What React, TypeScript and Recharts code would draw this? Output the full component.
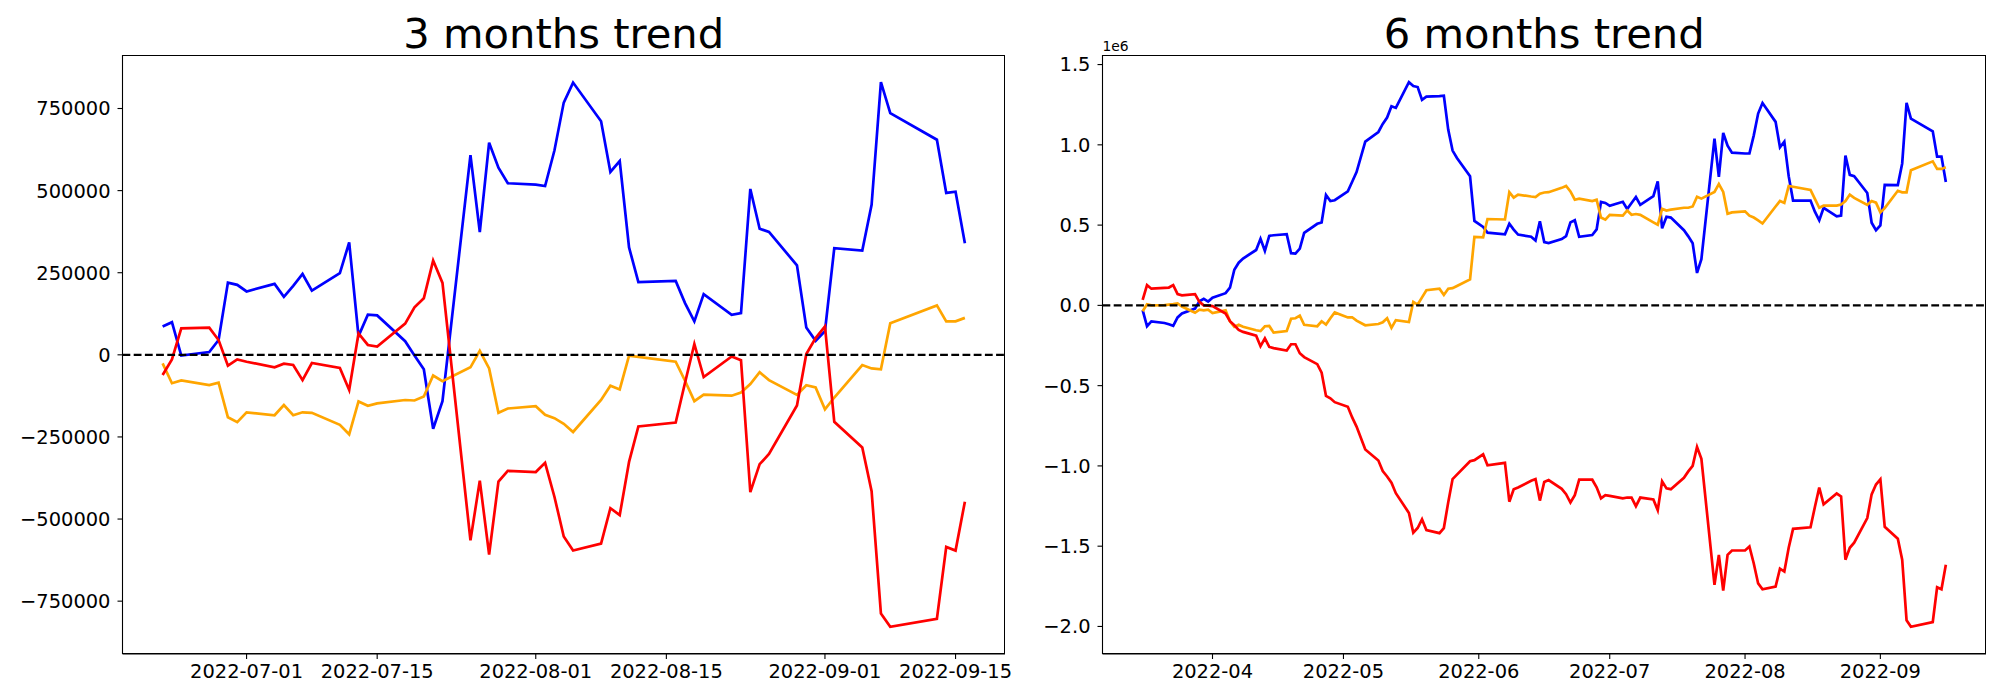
import React from 'react';
import { LineChart, Line, XAxis, YAxis, ReferenceLine } from 'recharts';

// ---------- 3 months data ----------
const dates3m = [
  '2022-06-22', '2022-06-23', '2022-06-24', '2022-06-27', '2022-06-28', '2022-06-29', '2022-06-30',
  '2022-07-01', '2022-07-04', '2022-07-05', '2022-07-06', '2022-07-07', '2022-07-08', '2022-07-11', '2022-07-12',
  '2022-07-13', '2022-07-14', '2022-07-15', '2022-07-18', '2022-07-19', '2022-07-20', '2022-07-21', '2022-07-22',
  '2022-07-25', '2022-07-26', '2022-07-27', '2022-07-28', '2022-07-29',
  '2022-08-01', '2022-08-02', '2022-08-03', '2022-08-04', '2022-08-05', '2022-08-08', '2022-08-09', '2022-08-10',
  '2022-08-11', '2022-08-12', '2022-08-16', '2022-08-17', '2022-08-18', '2022-08-19', '2022-08-22', '2022-08-23',
  '2022-08-24', '2022-08-25', '2022-08-26', '2022-08-29', '2022-08-30', '2022-08-31',
  '2022-09-01', '2022-09-02', '2022-09-05', '2022-09-06', '2022-09-07', '2022-09-08', '2022-09-13', '2022-09-14',
  '2022-09-15', '2022-09-16',
];
const blue3m = [
  86500, 99500, -2400, 8300, 45000, 220000, 213000,
  193000, 216000, 176500, 210000, 246000, 195500, 249000, 342000, 57000, 122000, 120000, 41500, -2000, -44000,
  -225000, -141000, 608000, 374000, 646000, 570000, 522500,
  518000, 514000, 622000, 768000, 829000, 711000, 557000, 590000, 327000, 221500, 225000, 157500, 102000, 185000,
  122000, 127000, 505000, 384000, 374000, 272500, 83000, 42700,
  72000, 325000, 317500, 457000, 830000, 736000, 655000, 493000, 496500, 340000,
];
const red3m = [
  -61600, -14000, 80600, 83000, 45000, -33000, -14000,
  -21000, -38000, -27000, -31000, -77000, -25000, -40000, -107000, 65000, 30000, 25000, 95000, 144500, 172000,
  287000, 219000, -565000, -383000, -608000, -386000, -353000,
  -357000, -329000, -432000, -553000, -596000, -575000, -467000, -488000, -326000, -218000, -206000, -85000, 33000,
  -67500, -5000, -16500, -418000, -333000, -302000, -154000, 2400, 51000,
  86500, -204000, -282000, -415000, -788000, -828000, -804000, -585000, -596000, -447000,
];
const orange3m = [
  -26000, -86500, -78000, -92000, -85000, -190000, -205000,
  -175000, -184000, -153000, -184000, -175000, -176500, -213000, -242000, -142000, -155000, -148000, -137500,
  -139000, -127000, -63000, -80500, -38000, 12000, -41500, -176500, -163500,
  -156500, -182500, -193000, -210000, -235000, -137500, -94000, -105500, -2400, -6000, -21000, -79000, -141000,
  -121000, -124500, -115000, -89000, -53000, -77000, -122000, -92500, -99500,
  -166000, -130000, -31000, -41500, -44000, 96000, 150500, 102000, 102000, 112500,
];
const xTicks3m = ['2022-07-01', '2022-07-15', '2022-08-01', '2022-08-15', '2022-09-01', '2022-09-15'];
const yTicks3m = [-750000, -500000, -250000, 0, 250000, 500000, 750000];

// ---------- 6 months data (values in units of 1e6) ----------
const dates6m = [
  '2022-03-16', '2022-03-17', '2022-03-18', '2022-03-21', '2022-03-22', '2022-03-23', '2022-03-24', '2022-03-25',
  '2022-03-28', '2022-03-29', '2022-03-30', '2022-03-31',
  '2022-04-01', '2022-04-04', '2022-04-05', '2022-04-06', '2022-04-07', '2022-04-08', '2022-04-11', '2022-04-12',
  '2022-04-13', '2022-04-14', '2022-04-15', '2022-04-18', '2022-04-19', '2022-04-20', '2022-04-21', '2022-04-22',
  '2022-04-25', '2022-04-26', '2022-04-27', '2022-04-28', '2022-04-29',
  '2022-05-02', '2022-05-03', '2022-05-04', '2022-05-06', '2022-05-09', '2022-05-10', '2022-05-11', '2022-05-12',
  '2022-05-13', '2022-05-16', '2022-05-17', '2022-05-18', '2022-05-19', '2022-05-20', '2022-05-23', '2022-05-24',
  '2022-05-25', '2022-05-26', '2022-05-27', '2022-05-30', '2022-05-31',
  '2022-06-02', '2022-06-03', '2022-06-07', '2022-06-08', '2022-06-09', '2022-06-10', '2022-06-13', '2022-06-14',
  '2022-06-15', '2022-06-16', '2022-06-17', '2022-06-20', '2022-06-21', '2022-06-22', '2022-06-23', '2022-06-24',
  '2022-06-27', '2022-06-28', '2022-06-29', '2022-06-30',
  '2022-07-01', '2022-07-04', '2022-07-05', '2022-07-06', '2022-07-07', '2022-07-08', '2022-07-11', '2022-07-12',
  '2022-07-13', '2022-07-14', '2022-07-15', '2022-07-18', '2022-07-19', '2022-07-20', '2022-07-21', '2022-07-22',
  '2022-07-25', '2022-07-26', '2022-07-27', '2022-07-28', '2022-07-29',
  '2022-08-01', '2022-08-02', '2022-08-03', '2022-08-04', '2022-08-05', '2022-08-08', '2022-08-09', '2022-08-10',
  '2022-08-11', '2022-08-12', '2022-08-16', '2022-08-17', '2022-08-18', '2022-08-19', '2022-08-22', '2022-08-23',
  '2022-08-24', '2022-08-25', '2022-08-26', '2022-08-29', '2022-08-30', '2022-08-31',
  '2022-09-01', '2022-09-02', '2022-09-05', '2022-09-06', '2022-09-07', '2022-09-08', '2022-09-13', '2022-09-14',
  '2022-09-15', '2022-09-16',
];
const blue6m = [
  -0.03, -0.13, -0.10, -0.11, -0.118, -0.127, -0.075, -0.05, -0.02, 0.026, 0.041, 0.024,
  0.048, 0.076, 0.11, 0.222, 0.266, 0.292, 0.345, 0.415, 0.34, 0.433, 0.437, 0.443, 0.325, 0.323, 0.354, 0.452,
  0.508, 0.516, 0.688, 0.65, 0.655,
  0.71, 0.77, 0.83, 1.02, 1.08, 1.13, 1.17, 1.24, 1.23, 1.39, 1.366, 1.36, 1.28, 1.30, 1.303, 1.306, 1.095, 0.964,
  0.918, 0.804, 0.526,
  0.489, 0.453, 0.443, 0.509, 0.472, 0.441, 0.428, 0.404, 0.524, 0.394, 0.388, 0.413, 0.431, 0.517, 0.53, 0.427,
  0.438, 0.473, 0.645, 0.638,
  0.62, 0.645, 0.60, 0.638, 0.675, 0.626, 0.68, 0.773, 0.48, 0.552, 0.547, 0.468, 0.43, 0.387, 0.202, 0.288,
  1.039, 0.80, 1.074, 0.995, 0.951,
  0.946, 0.946, 1.059, 1.195, 1.261, 1.143, 0.985, 1.02, 0.805, 0.653, 0.653, 0.584, 0.53, 0.608, 0.554, 0.559,
  0.933, 0.813, 0.805, 0.70, 0.515, 0.468,
  0.498, 0.751, 0.749, 0.884, 1.261, 1.163, 1.084, 0.926, 0.926, 0.768,
];
const red6m = [
  0.034, 0.126, 0.104, 0.109, 0.111, 0.126, 0.07, 0.063, 0.07, 0.022, 0.0, -0.002,
  -0.005, -0.051, -0.099, -0.124, -0.153, -0.165, -0.189, -0.254, -0.206, -0.259, -0.266, -0.281, -0.242, -0.242,
  -0.298, -0.322, -0.366, -0.419, -0.564, -0.579, -0.603,
  -0.632, -0.698, -0.755, -0.898, -0.966, -1.032, -1.066, -1.105, -1.17, -1.293, -1.416, -1.387, -1.333, -1.4,
  -1.419, -1.387, -1.227, -1.082, -1.054, -0.971, -0.964,
  -0.928, -0.996, -0.981, -1.223, -1.146, -1.134, -1.093, -1.082, -1.216, -1.1, -1.088, -1.143, -1.176, -1.228,
  -1.182, -1.086, -1.086, -1.133, -1.202, -1.182,
  -1.187, -1.202, -1.197, -1.197, -1.251, -1.197, -1.209, -1.276, -1.096, -1.14, -1.145, -1.074, -1.034, -1.0,
  -0.882, -0.956, -1.741, -1.554, -1.776, -1.554, -1.527,
  -1.527, -1.502, -1.608, -1.732, -1.768, -1.751, -1.64, -1.658, -1.51, -1.392, -1.382, -1.256, -1.135, -1.239,
  -1.172, -1.19, -1.584, -1.51, -1.478, -1.325, -1.177, -1.116,
  -1.084, -1.379, -1.453, -1.584, -1.961, -2.002, -1.973, -1.756, -1.768, -1.616,
];
const orange6m = [
  -0.036, 0.007, 0.0, 0.002, 0.005, 0.008, 0.012, -0.007, -0.046, -0.027, -0.031, -0.027,
  -0.048, -0.031, -0.099, -0.133, -0.121, -0.133, -0.155, -0.16, -0.13, -0.128, -0.17, -0.16, -0.083, -0.08,
  -0.064, -0.121, -0.13, -0.099, -0.119, -0.08, -0.044,
  -0.075, -0.074, -0.095, -0.124, -0.116, -0.105, -0.08, -0.14, -0.092, -0.104, 0.022, 0.005, 0.05, 0.094, 0.104,
  0.065, 0.104, 0.107, 0.121, 0.162, 0.426,
  0.424, 0.538, 0.535, 0.705, 0.671, 0.69, 0.678, 0.675, 0.696, 0.703, 0.705, 0.732, 0.744, 0.71, 0.658, 0.665,
  0.65, 0.658, 0.547, 0.534,
  0.564, 0.559, 0.591, 0.564, 0.569, 0.564, 0.517, 0.502, 0.601, 0.591, 0.596, 0.608, 0.608, 0.616, 0.677, 0.665,
  0.707, 0.756, 0.707, 0.571, 0.579,
  0.586, 0.559, 0.547, 0.53, 0.51, 0.616, 0.65, 0.638, 0.744, 0.739, 0.719, 0.663, 0.608, 0.621, 0.621, 0.628,
  0.65, 0.69, 0.67, 0.626, 0.65, 0.64,
  0.579, 0.606, 0.714, 0.704, 0.704, 0.842, 0.897, 0.85, 0.85, 0.86,
];
const xTicks6m = ['2022-04-01', '2022-05-01', '2022-06-01', '2022-07-01', '2022-08-01', '2022-09-01'];
const yTicks6m = [-2.0, -1.5, -1.0, -0.5, 0, 0.5, 1.0, 1.5];

const titles = ['3 months trend', '6 months trend'];
const offsetLabel6m = '1e6';

// ---------- helpers ----------
const toTs = (s: string) => Date.UTC(+s.slice(0, 4), +s.slice(5, 7) - 1, +s.slice(8, 10));
const pad2 = (n: number) => String(n).padStart(2, '0');
const fmtDay = (ts: number) => {
  const d = new Date(ts);
  return `${d.getUTCFullYear()}-${pad2(d.getUTCMonth() + 1)}-${pad2(d.getUTCDate())}`;
};
const fmtMonth = (ts: number) => {
  const d = new Date(ts);
  return `${d.getUTCFullYear()}-${pad2(d.getUTCMonth() + 1)}`;
};
const MINUS = '\u2212';
const fmtInt = (v: number) => (v < 0 ? MINUS + Math.abs(v) : String(v));
const fmtOne = (v: number) => (v < 0 ? MINUS : '') + Math.abs(v).toFixed(1);

const build = (dates: string[], b: number[], r: number[], o: number[]) =>
  dates.map((d, i) => ({ t: toTs(d), blue: b[i], red: r[i], orange: o[i] }));

const padDomain = (vals: number[]): [number, number] => {
  const mn = Math.min(...vals);
  const mx = Math.max(...vals);
  const p = (mx - mn) * 0.05;
  return [mn - p, mx + p];
};

const FONT = 'DejaVu Sans, Verdana, sans-serif';
const TICK_FS = 19.44;
const CHART_H = 700;
const PLOT_TOP = 55;
const XAXIS_H = 46;
const LINE_W = 2.7;

type ChartProps = {
  left: number;
  width: number;
  yAxisWidth: number;
  marginRight: number;
  data: { t: number; blue: number; red: number; orange: number }[];
  xTicks: number[];
  xFmt: (v: number) => string;
  yTicks: number[];
  yFmt: (v: number) => string;
};

function TrendChart(p: ChartProps) {
  const xDom = padDomain(p.data.map((d) => d.t));
  const yDom = padDomain(p.data.flatMap((d) => [d.blue, d.red, d.orange]));
  const tickStyle = { fill: '#000', fontSize: TICK_FS, fontFamily: FONT };
  const plotW = p.width - p.yAxisWidth - p.marginRight;
  const plotH = CHART_H - PLOT_TOP - XAXIS_H;
  return (
    <div style={{ position: 'absolute', left: p.left, top: 0, width: p.width, height: CHART_H }}>
      <LineChart
        width={p.width}
        height={CHART_H}
        data={p.data}
        margin={{ top: PLOT_TOP, right: p.marginRight, bottom: 0, left: 0 }}
      >
        <XAxis
          dataKey="t"
          type="number"
          domain={xDom}
          ticks={p.xTicks}
          tickFormatter={p.xFmt}
          interval={0}
          height={XAXIS_H}
          tick={tickStyle}
          tickSize={5}
          tickMargin={5}
          axisLine={{ stroke: '#000', strokeWidth: 1.1 }}
          tickLine={{ stroke: '#000', strokeWidth: 1.1 }}
          allowDataOverflow
        />
        <YAxis
          type="number"
          domain={yDom}
          ticks={p.yTicks}
          tickFormatter={p.yFmt}
          interval={0}
          width={p.yAxisWidth}
          tick={tickStyle}
          tickSize={5}
          tickMargin={7}
          axisLine={{ stroke: '#000', strokeWidth: 1.1 }}
          tickLine={{ stroke: '#000', strokeWidth: 1.1 }}
          allowDataOverflow
        />
        <Line type="linear" dataKey="blue" stroke="#0000ff" strokeWidth={LINE_W} dot={false} isAnimationActive={false} />
        <Line type="linear" dataKey="orange" stroke="#ffa500" strokeWidth={LINE_W} dot={false} isAnimationActive={false} />
        <Line type="linear" dataKey="red" stroke="#ff0000" strokeWidth={LINE_W} dot={false} isAnimationActive={false} />
        <ReferenceLine y={0} stroke="#000" strokeWidth={2.1} strokeDasharray="7.8 3.4" />
      </LineChart>
      <div
        style={{
          position: 'absolute',
          left: p.yAxisWidth - 0.5,
          top: PLOT_TOP - 0.5,
          width: plotW,
          height: plotH,
          border: '1.1px solid #000',
          boxSizing: 'border-box',
          pointerEvents: 'none',
        }}
      />
    </div>
  );
}

export default function App() {
  const data3m = build(dates3m, blue3m, red3m, orange3m);
  const data6m = build(dates6m, blue6m, red6m, orange6m);
  return (
    <div
      style={{
        position: 'absolute',
        left: 0,
        top: 0,
        width: 2000,
        height: 700,
        background: '#fff',
        fontFamily: FONT,
        overflow: 'hidden',
      }}
    >
      <TrendChart
        left={0}
        width={1040}
        yAxisWidth={122.5}
        marginRight={35}
        data={data3m}
        xTicks={xTicks3m.map(toTs)}
        xFmt={fmtDay}
        yTicks={yTicks3m}
        yFmt={fmtInt}
      />
      <TrendChart
        left={1040}
        width={960}
        yAxisWidth={62.5}
        marginRight={14}
        data={data6m}
        xTicks={xTicks6m.map(toTs)}
        xFmt={fmtMonth}
        yTicks={yTicks6m}
        yFmt={fmtOne}
      />
      <svg
        width={2000}
        height={700}
        style={{ position: 'absolute', left: 0, top: 0, pointerEvents: 'none' }}
      >
        <text x={563.75} y={47.5} textAnchor="middle" fontSize={41.67} fontFamily={FONT} fill="#000">
          {titles[0]}
        </text>
        <text x={1544.25} y={47.5} textAnchor="middle" fontSize={41.67} fontFamily={FONT} fill="#000">
          {titles[1]}
        </text>
        <text x={1102.5} y={51} textAnchor="start" fontSize={13.89} fontFamily={FONT} fill="#000">
          {offsetLabel6m}
        </text>
      </svg>
    </div>
  );
}
